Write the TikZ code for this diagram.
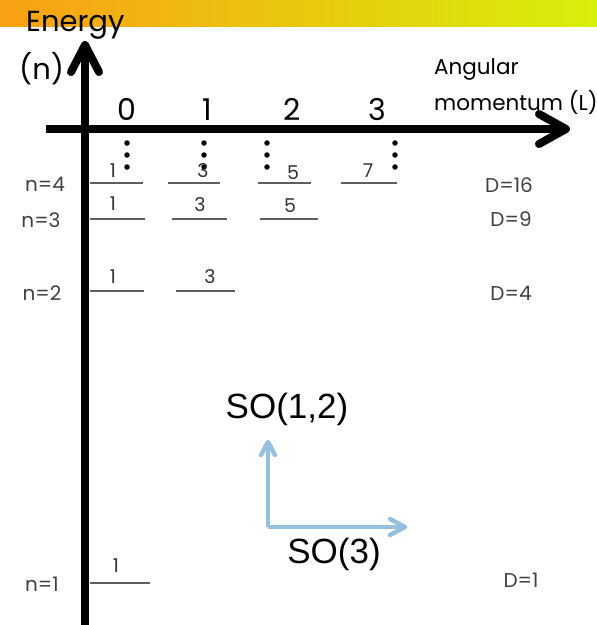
\documentclass[tikz,border=0pt]{standalone}
\usepackage{fontspec}
\setmainfont{Poppins}
\newfontfamily\arialf{Liberation Sans}
\definecolor{bandL}{RGB}{250,160,20}
\definecolor{bandM}{RGB}{255,245,0}
\definecolor{bandR}{RGB}{215,240,10}
\definecolor{soblue}{RGB}{150,192,222}
\definecolor{lvlgray}{RGB}{95,95,95}
\begin{document}
\begin{tikzpicture}[x=1pt,y=-1pt,
  axisline/.style={line width=8pt, black},
  axishead/.style={line width=8pt, black, line cap=round, line join=round},
  lvl/.style={line width=2.2pt, lvlgray},
  deg/.style={font=\fontsize{19}{19}\selectfont, text=black!80, inner sep=0pt},
  nlab/.style={font=\fontsize{20}{20}\selectfont, text=black!75, inner sep=0pt},
  dlab/.style={font=\fontsize{20}{20}\selectfont, text=black!75, inner sep=0pt},
  big/.style={font=\fontsize{29}{29}\selectfont, inner sep=0pt},
  digit/.style={font=\fontsize{30}{30}\selectfont, inner sep=0pt},
  axlab/.style={font=\fontsize{21.5}{21.5}\selectfont, inner sep=0pt},
  sotext/.style={font=\arialf\fontsize{35}{35}\selectfont, inner sep=0pt},
  dotm/.style={circle, fill=black, inner sep=0pt, minimum size=5.5pt},
  soarrow/.style={line width=4.5pt, soblue},
  sohead/.style={line width=4.5pt, soblue, line cap=round, line join=round}]
\useasboundingbox (0,0) rectangle (597,625);
% top band
\shade[left color=bandL, middle color=bandM, right color=bandR] (0,0) rectangle (597,26);
% axes
\coordinate (vbot) at (85,625);
\coordinate (vtop) at (85,46);
\coordinate (hleft) at (46,129);
\coordinate (hright) at (563,129);
\draw[axisline] (vbot) -- (vtop);
\draw[axishead] (71,72) -- (85,45) -- (99,72);
\draw[axisline] (hleft) -- (hright);
\draw[axishead] (539,114) -- (566,129) -- (539,144);
% axis labels
\node[big, anchor=base west] (energy) at (26,31) {Energy};
\node[big, anchor=base west] (nlabel) at (19,79) {(n)};
\node[axlab, anchor=base west] (ang) at (434,74) {Angular};
\node[axlab, anchor=base west] (mom) at (434,110) {momentum (L)};
\node[digit, anchor=base] (L0) at (127,120) {0};
\node[digit, anchor=base] (L1) at (207,120) {1};
\node[digit, anchor=base] (L2) at (292,120) {2};
\node[digit, anchor=base] (L3) at (377,120) {3};
% dots
\foreach \x/\c in {127/a,204/b,267/c,395/d}{
  \foreach \y/\r in {143/1,155/2,167/3}{
    \node[dotm] (dot\c\r) at (\x,\y) {};
  }
}
% n=4
\draw[lvl] (90,183) -- (143,183);
\draw[lvl] (168,183) -- (220,183);
\draw[lvl] (258,183) -- (311,183);
\draw[lvl] (341,183) -- (397,183);
\node[deg] (d41) at (113,171) {1};
\node[deg] (d43) at (203,171) {3};
\node[deg] (d45) at (293,173) {5};
\node[deg] (d47) at (368,171) {7};
% n=3
\draw[lvl] (90,219) -- (145,219);
\draw[lvl] (172,219) -- (227,219);
\draw[lvl] (260,219) -- (318,219);
\node[deg] (d31) at (113,204) {1};
\node[deg] (d33) at (200,205) {3};
\node[deg] (d35) at (290,206) {5};
% n=2
\draw[lvl] (90,291) -- (144,291);
\draw[lvl] (176,291) -- (235,291);
\node[deg] (d21) at (113,277) {1};
\node[deg] (d23) at (210,277) {3};
% n=1
\draw[lvl] (90,583) -- (150,583);
\node[deg] (d11) at (116,566) {1};
% n labels
\node[nlab] (n4) at (45,184) {n=4};
\node[nlab] (n3) at (41,220) {n=3};
\node[nlab] (n2) at (42,293) {n=2};
\node[nlab] (n1) at (42,584) {n=1};
% D labels
\node[dlab] (D16) at (509,185) {D=16};
\node[dlab] (D9) at (511,219) {D=9};
\node[dlab] (D4) at (511,293) {D=4};
\node[dlab] (D1) at (521,580) {D=1};
% SO arrows
\node[sotext] (so12) at (287,409) {SO(1,2)};
\node[sotext] (so3) at (334,554) {SO(3)};
\coordinate (corner) at (268,527);
\coordinate (uptip) at (268,442);
\coordinate (righttip) at (405,527);
\draw[soarrow] (corner) -- (uptip);
\draw[soarrow] (corner) -- (righttip);
\draw[sohead] (261,455) -- (268,442) -- (275,455);
\draw[sohead] (390,519) -- (405,527) -- (390,535);
\end{tikzpicture}
\end{document}
